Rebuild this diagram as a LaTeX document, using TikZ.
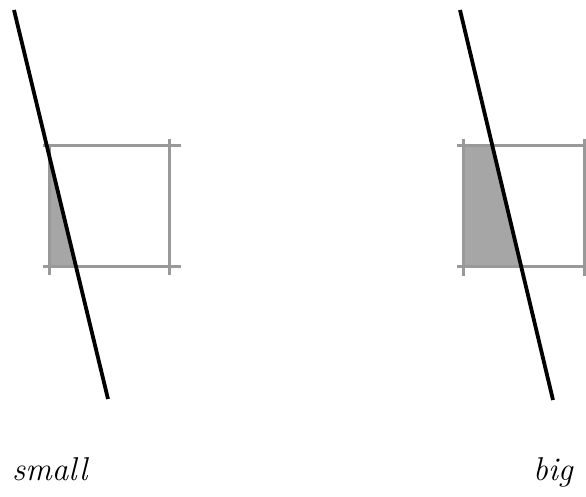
\documentclass[tikz,border=0pt]{standalone}
\begin{document}
\begin{tikzpicture}[x=1pt,y=-1pt,
  frame/.style={draw=gray!80!white,line width=3pt},
  shade/.style={fill=gray!70!white},
  cut/.style={draw=black,line width=3.8pt},
  lbl/.style={font=\fontsize{33}{33}\selectfont\itshape,inner sep=0pt,anchor=base west}]
\useasboundingbox (0,0) rectangle (586,497);
% left
\fill[shade] (49,155) -- (49,266) -- (76,266) -- cycle;
\draw[frame] (43,146) -- (181,146);
\draw[frame] (43,266) -- (181,266);
\draw[frame] (49,146) -- (49,275);
\draw[frame] (169,139) -- (169,275);
\draw[cut] (14,10) -- (108,399);
\node[lbl] (small) at (12,480) {small};
% right
\fill[shade] (463,146) -- (492.4,146) -- (521,266) -- (463,266) -- cycle;
\draw[frame] (457,146) -- (590,146);
\draw[frame] (457,266) -- (590,266);
\draw[frame] (463,139) -- (463,276);
\draw[frame] (584,139) -- (584,276);
\draw[cut] (460,10) -- (553,400);
\node[lbl] (big) at (533,480) {big};
\end{tikzpicture}
\end{document}
